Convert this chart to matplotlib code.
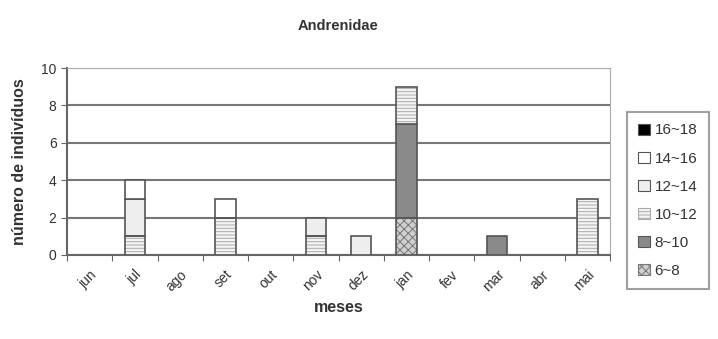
import numpy as np
import matplotlib
matplotlib.use('Agg')
import matplotlib.pyplot as plt
from matplotlib.patches import Patch

plt.rcParams['font.family'] = ['Liberation Sans', 'DejaVu Sans']
plt.rcParams['hatch.linewidth'] = 0.7

months = ['jun', 'jul', 'ago', 'set', 'out', 'nov', 'dez', 'jan', 'fev', 'mar', 'abr', 'mai']
classes = ['6~8', '8~10', '10~12', '12~14', '14~16', '16~18']
c6_8 = [0, 0, 0, 0, 0, 0, 0, 2, 0, 0, 0, 0]
c8_10 = [0, 0, 0, 0, 0, 0, 0, 5, 0, 1, 0, 0]
c10_12 = [0, 1, 0, 2, 0, 1, 0, 2, 0, 0, 0, 3]
c12_14 = [0, 2, 0, 0, 0, 1, 1, 0, 0, 0, 0, 0]
c14_16 = [0, 1, 0, 1, 0, 0, 0, 0, 0, 0, 0, 0]
c16_18 = [0, 0, 0, 0, 0, 0, 0, 0, 0, 0, 0, 0]
series = [c6_8, c8_10, c10_12, c12_14, c14_16, c16_18]

# (face, hatch, hatch colour)
styles = [
    ('#d0d0d0', 'xxxx', '#777777'),
    ('#8a8a8a', None, None),
    ('#f4f4f4', '-----', '#aaaaaa'),
    ('#eeeeee', None, None),
    ('white', None, None),
    ('black', None, None),
]
EDGE = '#555555'

fig = plt.figure(figsize=(7.18, 3.39), dpi=100)
ax = fig.add_axes([67/718, 1-255/339, (610-67)/718, (255-68)/339])

x = np.arange(len(months))
bottom = np.zeros(len(months))
handles = []
for lab, vals, (fc, hatch, hc) in zip(classes, series, styles):
    vals = np.array(vals, dtype=float)
    m = vals > 0
    if m.any():
        if hatch:
            ax.bar(x[m], vals[m], width=0.45, bottom=bottom[m], facecolor=fc,
                   hatch=hatch, edgecolor=hc, linewidth=0, zorder=3)
            ax.bar(x[m], vals[m], width=0.45, bottom=bottom[m], facecolor='none',
                   edgecolor=EDGE, linewidth=1.2, zorder=4)
        else:
            ax.bar(x[m], vals[m], width=0.45, bottom=bottom[m], facecolor=fc,
                   edgecolor=EDGE, linewidth=1.2, zorder=3)
    handles.append(Patch(facecolor=fc, hatch=hatch, edgecolor=hc if hatch else EDGE,
                         linewidth=0.8, label=lab))
    bottom += vals

ax.set_xlim(-0.5, len(months)-0.5)
ax.set_ylim(0, 10)
ax.set_yticks([0, 2, 4, 6, 8, 10])
ax.yaxis.grid(True, color='#777777', linewidth=1.5, zorder=0)
ax.set_axisbelow(True)
for s in ax.spines.values():
    s.set_color('#aaaaaa')
ax.spines['left'].set_color('#666666')
ax.spines['bottom'].set_color('#666666')
ax.spines['left'].set_linewidth(1.5)
ax.spines['bottom'].set_linewidth(1.5)

ax.set_xticks(np.arange(len(months)+1)-0.5)
ax.set_xticklabels([])
ax.set_xticks(x, minor=True)
ax.set_xticklabels(months, minor=True, rotation=45, ha='right', va='top',
                   rotation_mode='anchor', fontsize=10, color='#333333')
ax.tick_params(axis='x', which='major', length=4, color='#666666')
ax.tick_params(axis='x', which='minor', length=0, pad=9)
ax.tick_params(axis='y', length=4, color='#666666', labelsize=10, labelcolor='#333333')

ax.set_title('Andrenidae', fontsize=10.5, fontweight='bold', color='#333333', pad=27)
ax.set_xlabel('meses', fontsize=11.5, fontweight='bold', color='#333333', labelpad=4)
ax.set_ylabel('número de indivíduos', fontsize=11.5, fontweight='bold', color='#333333', labelpad=10)

leg = fig.legend(handles[::-1], classes[::-1], loc='upper left',
                 bbox_to_anchor=(627/718, 1-112/339), fontsize=11,
                 frameon=True, fancybox=False, edgecolor='#888888',
                 handlelength=0.75, handleheight=0.75, handletextpad=0.3,
                 labelspacing=0.92, borderpad=0.75, borderaxespad=0)
leg.get_frame().set_linewidth(1.5)
for t in leg.get_texts():
    t.set_color('#333333')

fig.savefig('out.png', dpi=100, facecolor='white')
